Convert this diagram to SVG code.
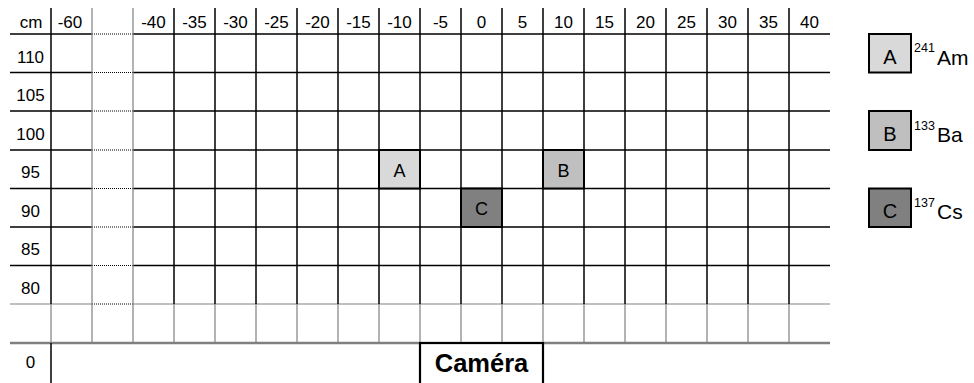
<svg xmlns="http://www.w3.org/2000/svg" width="974" height="383" viewBox="0 0 974 383">
<style>
text{font-family:"Liberation Sans",Arial,sans-serif;fill:#000}
.lbl{font-size:17px;text-anchor:middle}
.k{stroke:#000;stroke-width:1.5;fill:none}
.g{stroke:#808080;stroke-width:1.2;fill:none}
.dot{stroke:#000;stroke-width:1;stroke-dasharray:1 1;fill:none}
.cell{stroke:#000;stroke-width:2}
.cl{font-size:18px;text-anchor:middle}
.lg{font-size:20px;text-anchor:middle}
.sup{font-size:12.5px}
.nm{font-size:21px}
</style>
<rect width="974" height="383" fill="#fff"/>
<g id="grid">
  <path class="k" d="M10 34H92M133 34H830M10 72.5H92M133 72.5H830M10 111H92M133 111H830M10 150H92M133 150H830M10 188.5H92M133 188.5H830M10 227H92M133 227H830M10 265.5H92M133 265.5H830"/>
  <path class="g" d="M10 304H92M133 304H830"/>
  <path class="dot" d="M92 34H133M92 72.5H133M92 111H133M92 150H133M92 188.5H133M92 227H133M92 265.5H133M92 304H133"/>
  <path d="M10 343H830" stroke="#808080" stroke-width="2.5"/>
  <path class="k" d="M51 8V304M51 343V383M174 8V304M215 8V304M256 8V304M297 8V304M338 8V304M379 8V304M420 8V304M461 8V304M502 8V304M543 8V304M584 8V304M625 8V304M666 8V304M707 8V304M748 8V304M789 8V304"/>
  <path class="g" d="M92 8V343M133 8V343M51 304V343M174 304V343M215 304V343M256 304V343M297 304V343M338 304V343M379 304V343M420 304V343M461 304V343M502 304V343M543 304V343M584 304V343M625 304V343M666 304V343M707 304V343M748 304V343M789 304V343"/>
</g>
<g id="header">
  <text class="lbl" x="31" y="28">cm</text>
  <text class="lbl" x="70" y="28">-60</text>
  <text class="lbl" x="153.5" y="28">-40</text>
  <text class="lbl" x="194.5" y="28">-35</text>
  <text class="lbl" x="235.5" y="28">-30</text>
  <text class="lbl" x="276.5" y="28">-25</text>
  <text class="lbl" x="317.5" y="28">-20</text>
  <text class="lbl" x="358.5" y="28">-15</text>
  <text class="lbl" x="399.5" y="28">-10</text>
  <text class="lbl" x="440.5" y="28">-5</text>
  <text class="lbl" x="481.5" y="28">0</text>
  <text class="lbl" x="522.5" y="28">5</text>
  <text class="lbl" x="563.5" y="28">10</text>
  <text class="lbl" x="604.5" y="28">15</text>
  <text class="lbl" x="645.5" y="28">20</text>
  <text class="lbl" x="686.5" y="28">25</text>
  <text class="lbl" x="727.5" y="28">30</text>
  <text class="lbl" x="768.5" y="28">35</text>
  <text class="lbl" x="809.5" y="28">40</text>
</g>
<g id="rows">
  <text class="lbl" x="30.5" y="62.5">110</text>
  <text class="lbl" x="30.5" y="101">105</text>
  <text class="lbl" x="30.5" y="139.5">100</text>
  <text class="lbl" x="30.5" y="178">95</text>
  <text class="lbl" x="30.5" y="216.5">90</text>
  <text class="lbl" x="30.5" y="255">85</text>
  <text class="lbl" x="30.5" y="293.5">80</text>
  <text class="lbl" x="30.5" y="368">0</text>
</g>
<g id="source-A">
  <rect class="cell" x="379" y="150" width="41" height="38.5" fill="#d9d9d9"/>
  <text class="cl" x="399.5" y="176.5">A</text>
</g>
<g id="source-B">
  <rect class="cell" x="543" y="150" width="41" height="38.5" fill="#bfbfbf"/>
  <text class="cl" x="563.5" y="176.5">B</text>
</g>
<g id="source-C">
  <rect class="cell" x="461" y="188.5" width="41" height="38.5" fill="#808080"/>
  <text class="cl" x="481.5" y="215">C</text>
</g>
<g id="camera">
  <path d="M420 383V343H543V383" stroke="#000" stroke-width="2.2" fill="none"/>
  <text x="481.5" y="372" font-size="25.5" font-weight="bold" text-anchor="middle">Caméra</text>
</g>
<g id="legend-A">
  <rect class="cell" x="869" y="34" width="42" height="38.5" fill="#d9d9d9"/>
  <text class="lg" x="890" y="63.5">A</text>
  <text class="sup" x="914" y="52">241</text>
  <text class="nm" x="937" y="64.5">Am</text>
</g>
<g id="legend-B">
  <rect class="cell" x="869" y="111" width="42" height="39" fill="#bfbfbf"/>
  <text class="lg" x="890" y="140.5">B</text>
  <text class="sup" x="914" y="130">133</text>
  <text class="nm" x="937" y="141.5">Ba</text>
</g>
<g id="legend-C">
  <rect class="cell" x="869" y="188.5" width="42" height="38.5" fill="#808080"/>
  <text class="lg" x="890" y="218">C</text>
  <text class="sup" x="914" y="207">137</text>
  <text class="nm" x="937" y="218.5">Cs</text>
</g>
</svg>
